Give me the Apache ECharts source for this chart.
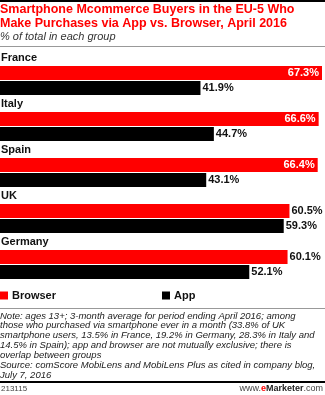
<!DOCTYPE html>
<html><head><meta charset="utf-8">
<script src="https://cdn.jsdelivr.net/npm/echarts@6/dist/echarts.min.js"></script>
<style>html,body{margin:0;padding:0;background:#fff}#c{width:325px;height:395px}</style>
</head><body><div id="c"></div>
<script>
const categories = ['France', 'Italy', 'Spain', 'UK', 'Germany'];
const browser = [67.3, 66.6, 66.4, 60.5, 60.1];
const app = [41.9, 44.7, 43.1, 59.3, 52.1];
const seriesNames = ['Browser', 'App'];

const F = '"Liberation Sans", Arial, sans-serif';
const chart = echarts.init(document.getElementById('c'), null, {renderer: 'canvas'});

function barLabel() {
  return {
    show: true, fontFamily: F, fontWeight: 'bold', fontSize: 11,
    formatter: p => p.value.toFixed(1) + '%'
  };
}

chart.setOption({
  animation: false,
  textStyle: {fontFamily: F},
  title: [
    {text: 'Smartphone Mcommerce Buyers in the EU-5 Who\nMake Purchases via App vs. Browser, April 2016',
     left: 0, top: 3, padding: 0,
     textStyle: {color: '#f00', fontSize: 12.5, fontWeight: 'bold', fontFamily: F, lineHeight: 13.5}},
    {text: '% of total in each group', left: 0, top: 31, padding: 0,
     textStyle: {color: '#333', fontSize: 11, fontStyle: 'italic', fontWeight: 'normal', fontFamily: F}},
    {text: 'Note: ages 13+; 3-month average for period ending April 2016; among\nthose who purchased via smartphone ever in a month (33.8% of UK\nsmartphone users, 13.5% in France, 19.2% in Germany, 28.3% in Italy and\n14.5% in Spain); app and browser are not mutually exclusive; there is\noverlap between groups\nSource: comScore MobiLens and MobiLens Plus as cited in company blog,\nJuly 7, 2016',
     left: 0, top: 311, padding: 0,
     textStyle: {color: '#222', fontSize: 9.5, fontStyle: 'italic', fontWeight: 'normal', fontFamily: F, lineHeight: 9.9}},
    {text: '213115', left: 1, top: 385, padding: 0,
     textStyle: {color: '#444', fontSize: 8, fontWeight: 'normal', fontFamily: F}},
    {text: 'www.{e|e}{b|Marketer}.com', right: 2, top: 384, padding: 0,
     textStyle: {color: '#444', fontSize: 9, fontWeight: 'normal', fontFamily: F,
       rich: {e: {color: '#f00', fontWeight: 'bold', fontSize: 9, fontFamily: F},
              b: {color: '#222', fontWeight: 'bold', fontSize: 9, fontFamily: F}}}}
  ],
  legend: [
    {data: [seriesNames[0]], left: 0, top: 290, padding: 0, itemWidth: 8, itemHeight: 8, itemGap: 0,
     icon: 'rect', textStyle: {fontFamily: F, fontWeight: 'bold', fontSize: 11, color: '#111', padding: [0,0,0,-1]}},
    {data: [seriesNames[1]], left: 162, top: 290, padding: 0, itemWidth: 8, itemHeight: 8, itemGap: 0,
     icon: 'rect', textStyle: {fontFamily: F, fontWeight: 'bold', fontSize: 11, color: '#111', padding: [0,0,0,-1]}}
  ],
  graphic: [
    {type: 'rect', shape: {x: 0, y: 0, width: 325, height: 2}, style: {fill: '#000'}},
    {type: 'rect', shape: {x: 0, y: 46, width: 325, height: 1}, style: {fill: '#999'}},
    {type: 'rect', shape: {x: 0, y: 308, width: 325, height: 1}, style: {fill: '#999'}},
    {type: 'rect', shape: {x: 0, y: 381, width: 325, height: 2}, style: {fill: '#000'}}
  ],
  grid: {left: 0, top: 50, width: 322, height: 230, containLabel: false},
  xAxis: {type: 'value', min: 0, max: 67.3, show: false},
  yAxis: {type: 'category', data: categories, inverse: true, show: false},
  series: [
    {type: 'bar', name: '_spacer', data: categories.map(() => 0), barWidth: 14, barGap: '7%', silent: true,
     itemStyle: {color: 'transparent'},
     label: {show: true, position: 'right', distance: 1, formatter: '{b}', color: '#111',
             fontFamily: F, fontWeight: 'bold', fontSize: 11}},
    {type: 'bar', name: seriesNames[0], data: browser.map(v => ({
        value: v,
        label: v > 62 ? {position: 'insideRight', color: '#fff', distance: 3} : {position: 'right', color: '#111', distance: 2}
      })),
     barWidth: 14, barGap: '7%', itemStyle: {color: '#f00'},
     label: barLabel()},
    {type: 'bar', name: seriesNames[1], data: app, barWidth: 14, barGap: '7%', itemStyle: {color: '#000'},
     label: Object.assign(barLabel(), {position: 'right', color: '#111', distance: 2})}
  ]
});
</script></body></html>
